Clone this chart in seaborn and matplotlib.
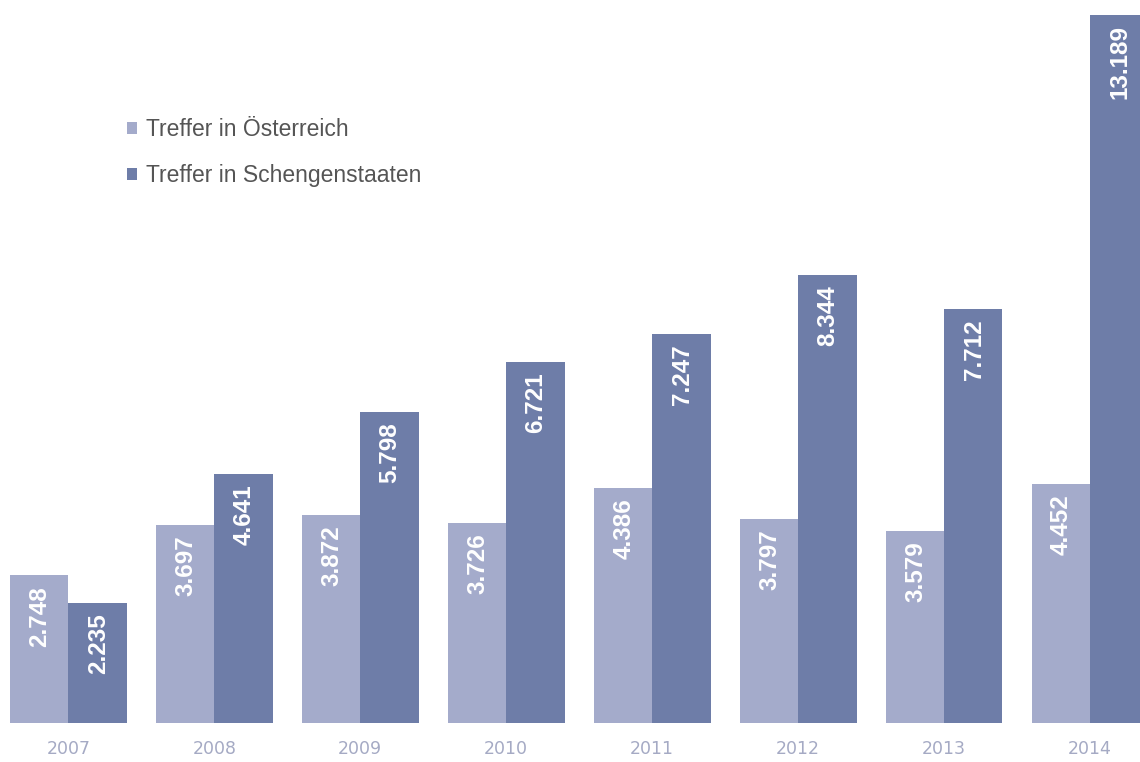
import pandas as pd
import matplotlib.pyplot as plt
import seaborn as sns

jahre = ['2007', '2008', '2009', '2010', '2011', '2012', '2013', '2014']
oesterreich = [2748, 3697, 3872, 3726, 4386, 3797, 3579, 4452]
schengen = [2235, 4641, 5798, 6721, 7247, 8344, 7712, 13189]
serien = ['Treffer in Österreich', 'Treffer in Schengenstaaten']

df = pd.DataFrame({
    'Jahr': jahre * 2,
    'Treffer': oesterreich + schengen,
    'Serie': [serien[0]] * len(jahre) + [serien[1]] * len(jahre),
})

sns.set_theme(style="white")
farben = ['#a4abcb', '#6e7da8']

fig = plt.figure(figsize=(11.4, 7.62), dpi=100)
ax = fig.add_axes([0, 39 / 762, 1, 723 / 762])
sns.barplot(data=df, x='Jahr', y='Treffer', hue='Serie', palette=farben,
            width=0.8, saturation=1, linewidth=0, ax=ax, legend=True)

# werte oben in den balken, weiss und gedreht
for cont in ax.containers:
    for rect in cont:
        h = rect.get_height()
        txt = f"{int(h):,}".replace(',', '.')
        ax.annotate(txt, (rect.get_x() + rect.get_width() / 2, h),
                    xytext=(0.5, -7.5), textcoords='offset points',
                    rotation=90, ha='center', va='top', color='white',
                    fontsize=17.5, fontweight='bold', family='Liberation Sans')

ax.set_xlim(-0.468, 7.342)
ax.set_ylim(0, 13469)
ax.set_xlabel('')
ax.set_ylabel('')
ax.set_yticks([])
ax.tick_params(axis='x', length=0, pad=12.5, labelsize=12.5, labelcolor='#a5aac4')
for s in ax.spines.values():
    s.set_visible(False)

ax.legend(loc='upper left', bbox_to_anchor=(0.093, 0.865), frameon=False,
          handlelength=0.45, handleheight=0.45, handletextpad=0.4,
          labelspacing=1.0, prop={'family': 'Liberation Sans', 'size': 16.5},
          labelcolor='#555555')

fig.savefig('out.png', dpi=100)
